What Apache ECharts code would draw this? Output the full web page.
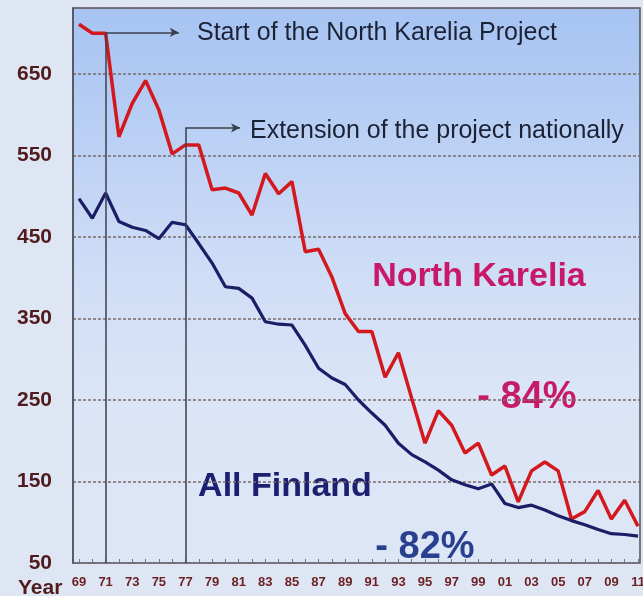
<!DOCTYPE html>
<html>
<head>
<meta charset="utf-8">
<script src="https://cdn.jsdelivr.net/npm/echarts@6/dist/echarts.min.js"></script>
<style>
  html, body { margin: 0; padding: 0; background: #dfe6f3; }
  #chart { width: 643px; height: 596px; }
</style>
</head>
<body>
<div id="chart"></div>
<script>
// years 1969..2011, one point per year
const years = [1969, 1970, 1971, 1972, 1973, 1974, 1975, 1976, 1977, 1978,
  1979, 1980, 1981, 1982, 1983, 1984, 1985, 1986, 1987, 1988,
  1989, 1990, 1991, 1992, 1993, 1994, 1995, 1996, 1997, 1998,
  1999, 2000, 2001, 2002, 2003, 2004, 2005, 2006, 2007, 2008,
  2009, 2010, 2011];

const northKarelia = [711, 700, 700, 573, 614, 642, 606, 552, 563, 563,
  508, 510, 504, 477, 528, 503, 518, 432, 435, 401,
  356, 334, 334, 278, 308, 252, 197, 237, 219, 185,
  197, 158, 169, 125, 163, 174, 163, 104, 113, 139,
  104, 127, 95];

const allFinland = [497, 473, 504, 469, 462, 458, 448, 468, 465, 442,
  418, 389, 387, 375, 346, 343, 342, 317, 289, 277,
  269, 250, 234, 219, 197, 183, 174, 164, 152, 146,
  141, 147, 123, 118, 121, 115, 108, 102, 97, 91,
  86, 85, 83];

// annotation events: year of the vertical line, height of the arrow, where the arrow stops
const eventYears = [1971, 1977];
const eventLevels = [701, 584];
const eventArrowEnds = [1976.5, 1981.1];
const eventTexts = ['Start of the North Karelia Project', 'Extension of the project nationally'];

const FONT = '"Liberation Sans", Arial, sans-serif';
const Y_MIN = 50, Y_MAX = 731;
const idx = y => y - years[0];
const toPairs = arr => arr.map((v, i) => [i, v]);

const markData = [];
eventYears.forEach((y, k) => {
  markData.push([{ coord: [idx(y), eventLevels[k]] }, { coord: [idx(y), Y_MIN] }]);
  markData.push([{ coord: [idx(y), eventLevels[k]] }, { coord: [idx(eventArrowEnds[k]), eventLevels[k]], symbol: 'arrow', symbolSize: [7, 9] }]);
});

function yearLabel(v) {
  const x = Number(v);
  const n = Math.round(x);
  if (Math.abs(x - n) > 1e-6 || n < 0 || n >= years.length) return '';
  return String(years[n] % 100).padStart(2, '0');
}

const chart = echarts.init(document.getElementById('chart'));

chart.setOption({
  animation: false,
  backgroundColor: '#dfe6f3',
  grid: [
    // frame: background, border, y labels and dashed grid lines
    {
      left: 73, right: 3, top: 8, bottom: 33,
      outerBoundsMode: 'none',
      show: true,
      borderColor: '#4d535e',
      borderWidth: 1.5,
      backgroundColor: {
        type: 'linear', x: 0, y: 0, x2: 0, y2: 1,
        colorStops: [
          { offset: 0, color: '#a6c3f2' },
          { offset: 0.45, color: '#cddcf6' },
          { offset: 0.7, color: '#dbe5f7' },
          { offset: 1, color: '#dde6f4' }
        ]
      }
    },
    // data area, first and last year sit a few px inside the frame
    { left: 79, right: 5, top: 8, bottom: 33, outerBoundsMode: 'none', show: false }
  ],
  xAxis: [
    { gridIndex: 0, type: 'value', min: 0, max: 1, show: false },
    {
      gridIndex: 1,
      type: 'value',
      min: 0, max: 42, interval: 2,
      axisLine: { show: false },
      axisTick: { show: true, inside: true, length: 4, lineStyle: { color: '#777' } },
      minorTick: { show: true, splitNumber: 2, length: 4, lineStyle: { color: '#777' } },
      splitLine: { show: false },
      axisLabel: {
        formatter: yearLabel,
        color: '#6b1f22', fontWeight: 'bold', fontSize: 13, fontFamily: FONT, margin: 13
      }
    }
  ],
  yAxis: [
    {
      gridIndex: 0,
      type: 'value',
      min: Y_MIN, max: Y_MAX, interval: 100,
      axisLine: { show: true, onZero: false, lineStyle: { color: '#4d535e', width: 1.5 } },
      axisTick: { show: false },
      splitLine: { lineStyle: { color: '#7b6b6b', width: 1.5, type: [3, 2] } },
      axisLabel: {
        formatter: v => (Number(v) - Y_MIN) % 100 === 0 ? String(v) : '',
        color: '#4f1b1d', fontWeight: 'bold', fontSize: 21, fontFamily: FONT, margin: 21
      }
    },
    { gridIndex: 1, type: 'value', min: Y_MIN, max: Y_MAX, show: false }
  ],
  series: [
    {
      name: 'North Karelia',
      type: 'line',
      xAxisIndex: 1, yAxisIndex: 1,
      data: toPairs(northKarelia),
      symbol: 'none',
      lineStyle: { color: '#d3181e', width: 3.5 },
      z: 3,
      markLine: {
        silent: true,
        symbol: ['none', 'none'],
        label: { show: false },
        lineStyle: { color: '#3b414c', width: 1.5, type: 'solid' },
        emphasis: { disabled: true },
        data: markData
      }
    },
    {
      name: 'All Finland',
      type: 'line',
      xAxisIndex: 1, yAxisIndex: 1,
      data: toPairs(allFinland),
      symbol: 'none',
      lineStyle: { color: '#1b1d66', width: 3.2 },
      z: 3
    }
  ],
  graphic: [
    { type: 'text', x: 197, y: 33, style: { text: eventTexts[0], font: '25px ' + FONT, fill: '#1c2236', verticalAlign: 'middle' } },
    { type: 'text', x: 250, y: 131, style: { text: eventTexts[1], font: '25px ' + FONT, fill: '#1c2236', verticalAlign: 'middle' } },
    { type: 'text', x: 479, y: 277, style: { text: 'North Karelia', font: 'bold 34px ' + FONT, fill: '#c8186a', align: 'center', verticalAlign: 'middle' } },
    { type: 'text', x: 527, y: 398, style: { text: '- 84%', font: 'bold 38px ' + FONT, fill: '#c71a68', align: 'center', verticalAlign: 'middle' } },
    { type: 'text', x: 285, y: 487, style: { text: 'All Finland', font: 'bold 34px ' + FONT, fill: '#1c2070', align: 'center', verticalAlign: 'middle' } },
    { type: 'text', x: 425, y: 548, style: { text: '- 82%', font: 'bold 38px ' + FONT, fill: '#29408f', align: 'center', verticalAlign: 'middle' } },
    { type: 'text', x: 18, y: 588, style: { text: 'Year', font: 'bold 21px ' + FONT, fill: '#4f1b1d', verticalAlign: 'middle' } }
  ]
});
</script>
</body>
</html>
